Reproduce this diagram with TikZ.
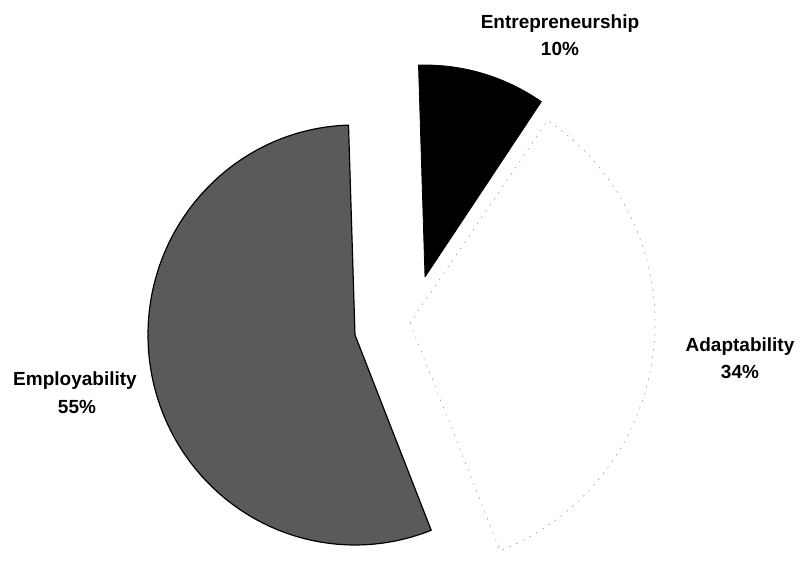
\documentclass[tikz,border=0pt]{standalone}
\usepackage{fontspec}
\setmainfont{Liberation Sans}
\definecolor{slicegrey}{HTML}{5A5A5A}
\begin{document}
\begin{tikzpicture}[x=1pt,y=1pt,
  lbl/.style={font=\bfseries\fontsize{19}{22}\selectfont, anchor=base, inner sep=0pt},
  greyslice/.style={fill=slicegrey, draw=black, line width=1.2pt, line join=round},
  blackslice/.style={fill=black, draw=black, line width=0.8pt, line join=round},
  whiteslice/.style={fill=white, draw=black!45, line width=0.5pt, dash pattern=on 1.5pt off 6pt}]
\useasboundingbox (0,0) rectangle (801,572);
\fill[white] (0,0) rectangle (801,572);
% Adaptability (not exploded)
\coordinate (cA) at (410,249);
\draw[whiteslice] (cA) -- ++(-68.4:245) arc[start angle=-68.4, end angle=55.8, radius=245] -- cycle;
% Employability
\coordinate (cE) at (355,237);
\draw[greyslice] (cE) -- ++(91.8:{207 and 210}) arc[start angle=91.8, end angle=291.6, x radius=207, y radius=210] -- cycle;
% Entrepreneurship
\coordinate (cN) at (425,295);
\draw[blackslice] (cN) -- ++(55.8:{207 and 212}) arc[start angle=55.8, end angle=91.8, x radius=207, y radius=212] -- cycle;
% labels
\node[lbl] (entT) at (560,543) {Entrepreneurship};
\node[lbl] (entP) at (560,516) {10\%};
\node[lbl] (adaT) at (740,220) {Adaptability};
\node[lbl] (adaP) at (740,193) {34\%};
\node[lbl] (empT) at (75,186) {Employability};
\node[lbl] (empP) at (77,158) {55\%};
\end{tikzpicture}
\end{document}
